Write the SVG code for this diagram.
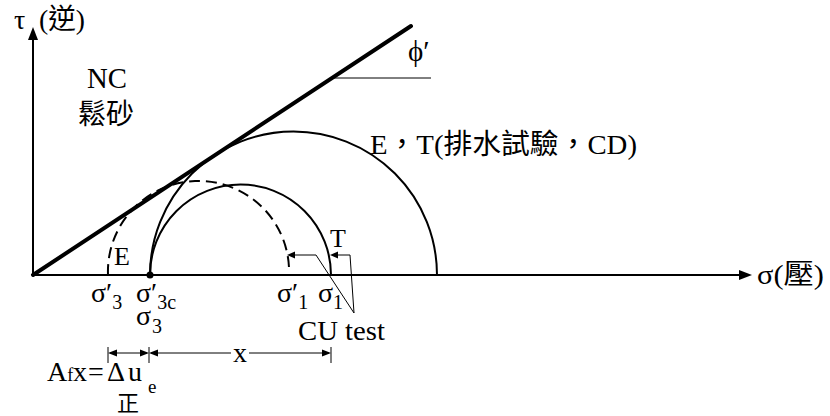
<svg xmlns="http://www.w3.org/2000/svg" width="830" height="416" viewBox="0 0 830 416">
<style>
.t{font-family:"Liberation Serif","Noto Sans CJK TC",serif;fill:#000}
.ln{stroke:#000;fill:none}
.ah{fill:#000;stroke:none}
</style>
<rect width="830" height="416" fill="#fff"/>
<g id="axes">
  <line class="ln" x1="33" y1="275" x2="33" y2="38" stroke-width="2"/>
  <polygon class="ah" points="33,27 28,40 38,40"/>
  <line class="ln" x1="33" y1="275" x2="742" y2="275" stroke-width="2"/>
  <polygon class="ah" points="752,275 739,270 739,280"/>
  <text class="t" x="14" y="29" font-size="28">τ</text>
  <text class="t" x="39" y="29" font-size="28" textLength="46" lengthAdjust="spacingAndGlyphs">(逆)</text>
  <text class="t" x="757" y="284" font-size="28" textLength="67" lengthAdjust="spacingAndGlyphs">σ(壓)</text>
</g>
<g id="failure-envelope">
  <line class="ln" x1="33" y1="275" x2="411" y2="26" stroke-width="4" stroke-linecap="round"/>
  <line class="ln" x1="331" y1="78" x2="431" y2="78" stroke-width="1"/>
  <text class="t" x="408" y="61" font-size="29">ϕ′</text>
</g>
<g id="label-nc">
  <text class="t" x="87" y="88" font-size="29" textLength="40" lengthAdjust="spacingAndGlyphs">NC</text>
  <text class="t" x="78" y="124" font-size="28">鬆砂</text>
</g>
<g id="circle-cd">
  <path class="ln" d="M150,275 A143.5,143.5 0 0 1 437,275" stroke-width="2"/>
  <text class="t" x="370" y="154" font-size="28" textLength="267" lengthAdjust="spacingAndGlyphs">E，T(排水試驗，CD)</text>
</g>
<g id="circle-cu-total">
  <path class="ln" d="M150,275 A90.5,90.5 0 0 1 331,275" stroke-width="2"/>
  <circle cx="150" cy="275" r="3.5" fill="#000"/>
  <text class="t" x="330" y="247" font-size="26">T</text>
</g>
<g id="circle-cu-effective">
  <path class="ln" d="M108,275 A90.5,90.5 0 0 1 289,268" stroke-width="2" stroke-dasharray="11 6"/>
  <text class="t" x="114" y="265" font-size="26">E</text>
</g>
<g id="stress-labels">
  <text class="t" x="91" y="302" font-size="28">σ′<tspan dy="7" font-size="20">3</tspan></text>
  <text class="t" x="136" y="302" font-size="28">σ′<tspan dy="7" font-size="20">3c</tspan></text>
  <text class="t" x="136" y="325" font-size="28">σ<tspan dx="1" dy="8" font-size="20">3</tspan></text>
  <text class="t" x="277" y="302" font-size="28">σ′<tspan dy="7" font-size="20">1</tspan></text>
  <text class="t" x="318" y="302" font-size="28">σ<tspan dy="7" font-size="20">1</tspan></text>
</g>
<g id="connectors">
  <polyline class="ln" points="294,255 316,255 354,313" stroke-width="1"/>
  <polygon class="ah" points="287,255 295,251.5 295,258.5"/>
  <polyline class="ln" points="337,255 350,255 354,313" stroke-width="1"/>
  <polygon class="ah" points="330,255 338,251.5 338,258.5"/>
  <text class="t" x="298" y="340" font-size="28" textLength="87" lengthAdjust="spacingAndGlyphs">CU test</text>
</g>
<g id="dimension">
  <line class="ln" x1="108" y1="347" x2="108" y2="363" stroke-width="1"/>
  <line class="ln" x1="149" y1="347" x2="149" y2="363" stroke-width="1"/>
  <line class="ln" x1="331" y1="347" x2="331" y2="363" stroke-width="1"/>
  <line class="ln" x1="110" y1="353" x2="147" y2="353" stroke-width="1"/>
  <polygon class="ah" points="108,353 117,349.5 117,356.5"/>
  <polygon class="ah" points="149,353 140,349.5 140,356.5"/>
  <line class="ln" x1="151" y1="353" x2="231" y2="353" stroke-width="1"/>
  <line class="ln" x1="249" y1="353" x2="329" y2="353" stroke-width="1"/>
  <polygon class="ah" points="149,353 158,349.5 158,356.5"/>
  <polygon class="ah" points="331,353 322,349.5 322,356.5"/>
  <text class="t" x="233" y="362" font-size="28">x</text>
  <text class="t" x="47" y="381" font-size="28">A<tspan font-size="18">f</tspan><tspan x="73">x</tspan><tspan x="88">=</tspan><tspan x="107">Δ</tspan><tspan x="128">u</tspan></text>
  <text class="t" x="148" y="393" font-size="19">e</text>
  <text class="t" x="117" y="411" font-size="22">正</text>
</g>
</svg>
